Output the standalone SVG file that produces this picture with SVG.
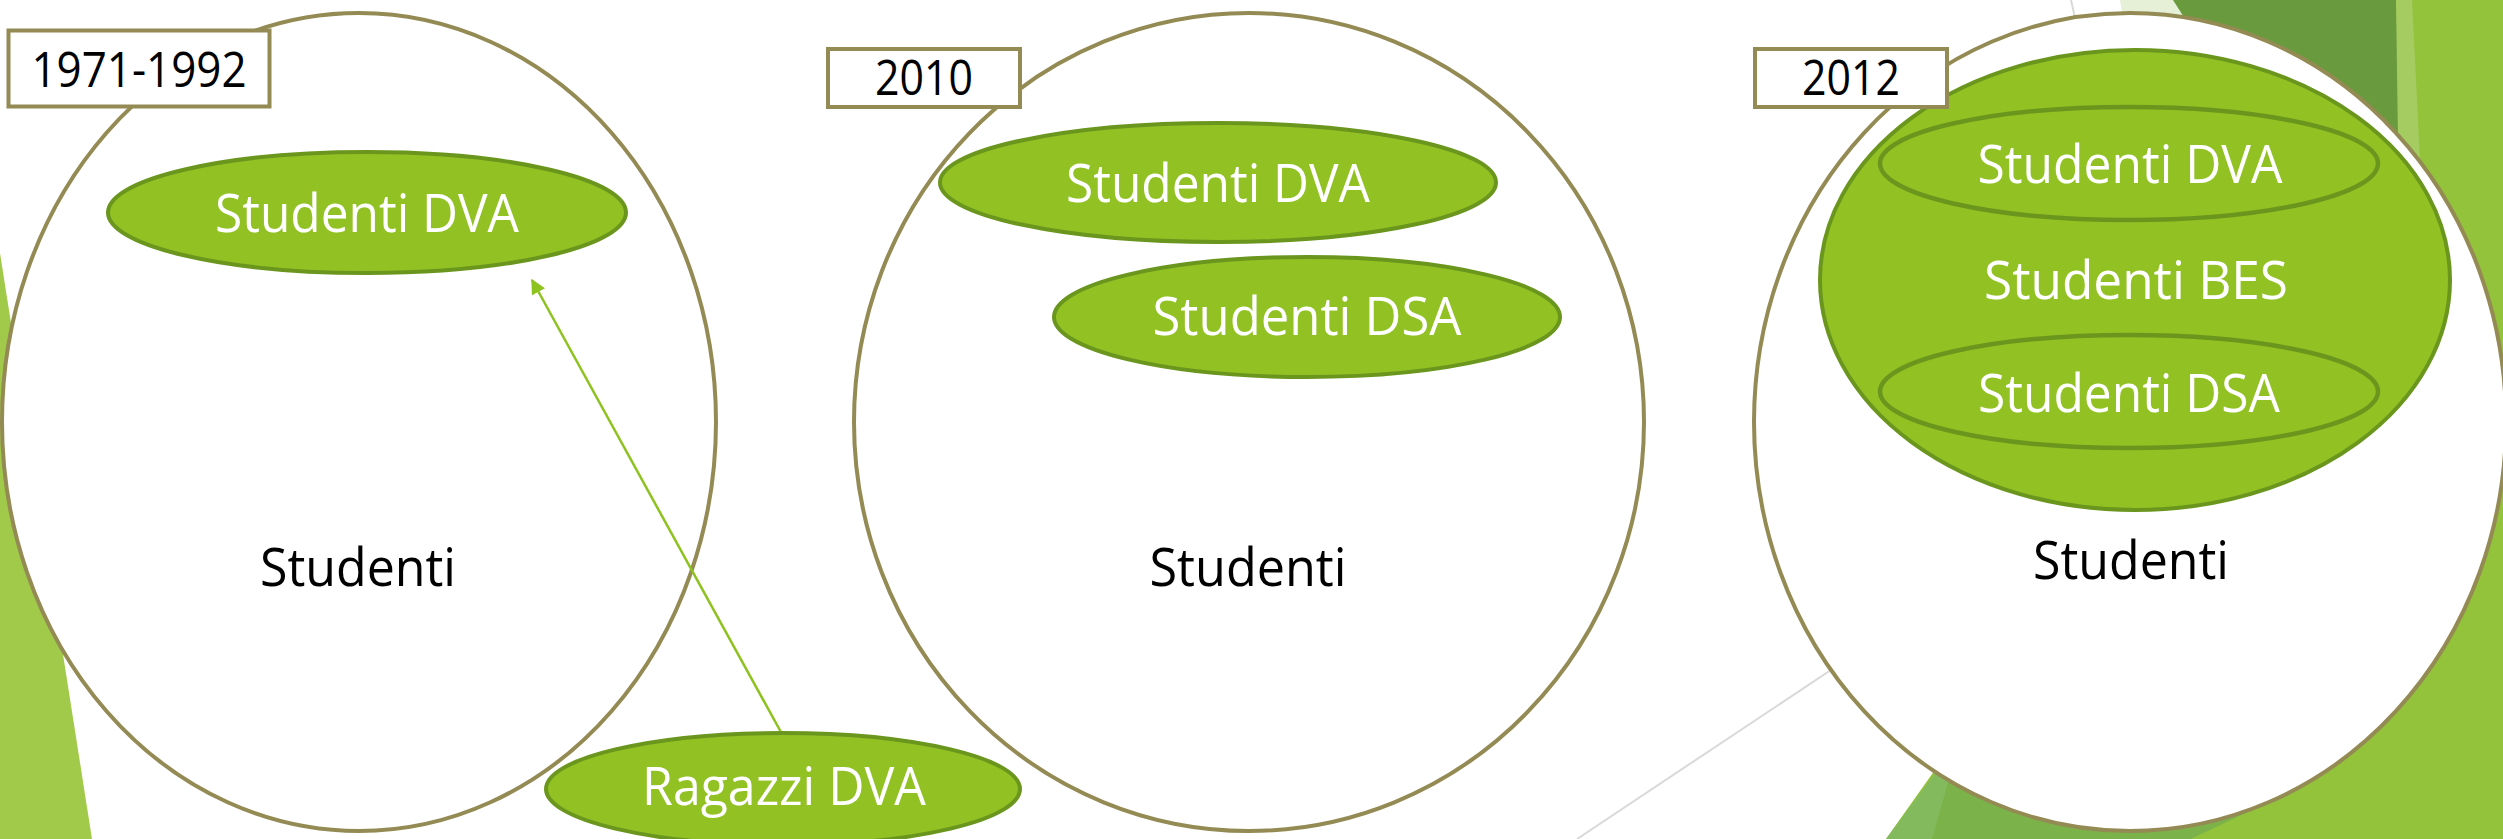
<svg xmlns="http://www.w3.org/2000/svg" width="2503" height="839" viewBox="0 0 2503 839">
<style>
.big{fill:#ffffff;stroke:#948A54;stroke-width:4}
.box{fill:#ffffff;stroke:#948A54;stroke-width:4}
.grn{fill:#92C124;stroke:#6A961E;stroke-width:4}
.in{fill:none;stroke:#6A961E;stroke-width:4.5}
.wt{font-family:"Open Sans","Noto Sans",sans-serif;font-size:53px;fill:#ffffff;text-anchor:middle}
.bk{font-family:"Open Sans","Noto Sans",sans-serif;font-size:53px;fill:#000000;text-anchor:middle}
.yr{font-family:"Open Sans","Noto Sans",sans-serif;font-size:49px;fill:#000000;text-anchor:middle}
.deco{stroke:#D9D9D9;stroke-width:2;fill:none}
</style>
<defs>
<marker id="ah" viewBox="0 0 10 10" refX="9" refY="5" markerWidth="6" markerHeight="6" orient="auto" markerUnits="strokeWidth">
<path d="M0,0 L10,5 L0,10 z" fill="#8DC21F"/>
</marker>
</defs>
<g id="background">
<rect x="0" y="0" width="2503" height="839" fill="#ffffff"/>
<polygon points="0,253 92,839 0,839" fill="#A2CA4A"/>
<polygon points="2120,0 2175,0 2200,30 2125,30" fill="#E5F0D7"/>
<polygon points="2396,0 2503,0 2503,839 1886,839 1942,760 2200,500" fill="#93C23B"/>
<polygon points="2173,0 2396,0 2402,140 2300,200" fill="#699A3E"/>
<polygon points="2396,0 2412,0 2420,160 2398,140" fill="#A5CC60"/>
<polygon points="1886,839 1945,760 1960,760 1932,839" fill="#84BA5E"/>
<polygon points="1932,839 1960,740 2300,787 2191,839" fill="#7BB34A"/>
<line class="deco" x1="2071" y1="0" x2="2080" y2="40"/>
<line class="deco" x1="1577" y1="839" x2="1900" y2="624"/>
</g>
<g id="circle-1971">
<ellipse class="big" cx="359" cy="422" rx="357" ry="409"/>
<text class="bk" x="358" y="586" textLength="196" lengthAdjust="spacingAndGlyphs">Studenti</text>
</g>
<g id="circle-2010">
<ellipse class="big" cx="1249" cy="422" rx="395" ry="409"/>
<text class="bk" x="1248" y="586" textLength="197" lengthAdjust="spacingAndGlyphs">Studenti</text>
</g>
<g id="circle-2012">
<ellipse class="big" cx="2130" cy="422" rx="376" ry="409"/>
<text class="bk" x="2131" y="579" textLength="196" lengthAdjust="spacingAndGlyphs">Studenti</text>
</g>
<g id="dva-1971">
<ellipse class="grn" cx="367" cy="212.5" rx="259" ry="60.5"/>
<text class="wt" x="367" y="232" textLength="304" lengthAdjust="spacingAndGlyphs">Studenti DVA</text>
</g>
<g id="dva-2010">
<ellipse class="grn" cx="1218" cy="182.5" rx="278" ry="59.5"/>
<text class="wt" x="1218" y="202" textLength="304" lengthAdjust="spacingAndGlyphs">Studenti DVA</text>
</g>
<g id="dsa-2010">
<ellipse class="grn" cx="1307" cy="317" rx="253" ry="60"/>
<text class="wt" x="1307" y="335" textLength="309" lengthAdjust="spacingAndGlyphs">Studenti DSA</text>
</g>
<g id="bes-2012">
<ellipse class="grn" cx="2135" cy="280" rx="315" ry="230"/>
<text class="wt" x="2136" y="299" textLength="304" lengthAdjust="spacingAndGlyphs">Studenti BES</text>
</g>
<g id="dva-2012">
<ellipse class="in" cx="2129" cy="163.5" rx="249" ry="56.5"/>
<text class="wt" x="2130" y="183" textLength="305" lengthAdjust="spacingAndGlyphs">Studenti DVA</text>
</g>
<g id="dsa-2012">
<ellipse class="in" cx="2129" cy="391.5" rx="249" ry="56.5"/>
<text class="wt" x="2129" y="412" textLength="302" lengthAdjust="spacingAndGlyphs">Studenti DSA</text>
</g>
<g id="connectors">
<line x1="782" y1="734" x2="532" y2="280" stroke="#8DC21F" stroke-width="2.5" marker-end="url(#ah)"/>
</g>
<g id="ragazzi-dva">
<ellipse class="grn" cx="783" cy="789" rx="237" ry="56"/>
<text class="wt" x="784" y="805" textLength="284" lengthAdjust="spacingAndGlyphs">Ragazzi DVA</text>
</g>
<g id="label-1971">
<rect class="box" x="8.5" y="30.5" width="261" height="76"/>
<text class="yr" x="139" y="87" textLength="215" lengthAdjust="spacingAndGlyphs">1971-1992</text>
</g>
<g id="label-2010">
<rect class="box" x="828" y="49" width="192" height="58"/>
<text class="yr" x="924" y="95" textLength="98" lengthAdjust="spacingAndGlyphs">2010</text>
</g>
<g id="label-2012">
<rect class="box" x="1755" y="49" width="192" height="58"/>
<text class="yr" x="1851" y="95" textLength="98" lengthAdjust="spacingAndGlyphs">2012</text>
</g>
</svg>
